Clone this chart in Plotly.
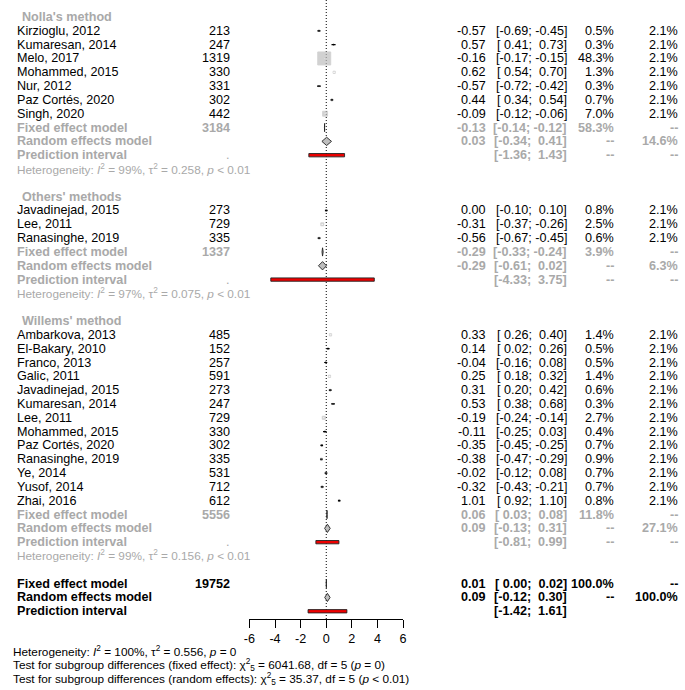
import plotly.graph_objects as go

# ---------------- data ----------------
nolla_study = ["Kirzioglu, 2012", "Kumaresan, 2014", "Melo, 2017", "Mohammed, 2015",
               "Nur, 2012", "Paz Cortés, 2020", "Singh, 2020"]
nolla_n = [213, 247, 1319, 330, 331, 302, 442]
nolla_te = [-0.57, 0.57, -0.16, 0.62, -0.57, 0.44, -0.09]
nolla_lo = [-0.69, 0.41, -0.17, 0.54, -0.72, 0.34, -0.12]
nolla_hi = [-0.45, 0.73, -0.15, 0.70, -0.42, 0.54, -0.06]
nolla_wf = [0.5, 0.3, 48.3, 1.3, 0.3, 0.7, 7.0]
nolla_wr = [2.1, 2.1, 2.1, 2.1, 2.1, 2.1, 2.1]
nolla_fixed = [3184, -0.13, -0.14, -0.12, 58.3]
nolla_random = [0.03, -0.34, 0.41, 14.6]
nolla_pred = [-1.36, 1.43]
nolla_het = ["99%", "0.258", "&lt; 0.01"]

others_study = ["Javadinejad, 2015", "Lee, 2011", "Ranasinghe, 2019"]
others_n = [273, 729, 335]
others_te = [0.00, -0.31, -0.56]
others_lo = [-0.10, -0.37, -0.67]
others_hi = [0.10, -0.26, -0.45]
others_wf = [0.8, 2.5, 0.6]
others_wr = [2.1, 2.1, 2.1]
others_fixed = [1337, -0.29, -0.33, -0.24, 3.9]
others_random = [-0.29, -0.61, 0.02, 6.3]
others_pred = [-4.33, 3.75]
others_het = ["97%", "0.075", "&lt; 0.01"]

willems_study = ["Ambarkova, 2013", "El-Bakary, 2010", "Franco, 2013", "Galic, 2011",
                 "Javadinejad, 2015", "Kumaresan, 2014", "Lee, 2011", "Mohammed, 2015",
                 "Paz Cortés, 2020", "Ranasinghe, 2019", "Ye, 2014", "Yusof, 2014",
                 "Zhai, 2016"]
willems_n = [485, 152, 257, 591, 273, 247, 729, 330, 302, 335, 531, 712, 612]
willems_te = [0.33, 0.14, -0.04, 0.25, 0.31, 0.53, -0.19, -0.11, -0.35, -0.38, -0.02, -0.32, 1.01]
willems_lo = [0.26, 0.02, -0.16, 0.18, 0.20, 0.38, -0.24, -0.25, -0.45, -0.47, -0.12, -0.43, 0.92]
willems_hi = [0.40, 0.26, 0.08, 0.32, 0.42, 0.68, -0.14, 0.03, -0.25, -0.29, 0.08, -0.21, 1.10]
willems_wf = [1.4, 0.5, 0.5, 1.4, 0.6, 0.3, 2.7, 0.4, 0.7, 0.9, 0.7, 0.7, 0.8]
willems_wr = [2.1] * 13
willems_fixed = [5556, 0.06, 0.03, 0.08, 11.8]
willems_random = [0.09, -0.13, 0.31, 27.1]
willems_pred = [-0.81, 0.99]
willems_het = ["99%", "0.156", "&lt; 0.01"]

overall_fixed = [19752, 0.01, 0.00, 0.02, 100.0]
overall_random = [0.09, -0.12, 0.30, 100.0]
overall_pred = [-1.42, 1.61]
overall_het = ["100%", "0.556", "= 0"]
test_fixed = ["6041.68", "5", "= 0"]
test_random = ["35.37", "5", "&lt; 0.01"]

tick_vals = [-6, -4, -2, 0, 2, 4, 6]
tick_text = ["-6", "-4", "-2", "0", "2", "4", "6"]

groups = [
    ("Nolla's method", nolla_study, nolla_n, nolla_te, nolla_lo, nolla_hi, nolla_wf, nolla_wr,
     nolla_fixed, nolla_random, nolla_pred, nolla_het),
    ("Others' methods", others_study, others_n, others_te, others_lo, others_hi, others_wf, others_wr,
     others_fixed, others_random, others_pred, others_het),
    ("Willems' method", willems_study, willems_n, willems_te, willems_lo, willems_hi, willems_wf, willems_wr,
     willems_fixed, willems_random, willems_pred, willems_het),
]

# ---------------- layout constants ----------------
W, H = 685, 690
FS = 12.6
FS_HET = 11.8
FONT = "Liberation Sans, Arial, Helvetica, sans-serif"
GREY = "#A9A9A9"
SQ = "#BEBEBE"
X_NAME, X_HDR, X_N, X_TE, X_CI, X_WF, X_WR = 11, 16.5, 227, 487, 569, 617, 682
AX_LEFT, AX_RIGHT, AX_BOTTOM = 247, 403, 619
ROW0_PX, ROW_PX = 17, 13.82
SQ_MAX = 13.0
PX_PER_UNIT = (AX_RIGHT - AX_LEFT) / 12.0
NB = "\u00a0"

annotations = []


def ann(px, row, text, anchor, color="black", bold=False, yref="y", size=FS):
    if bold:
        text = "<b>" + text + "</b>"
    annotations.append(dict(
        x=px / W, xref="paper", y=row, yref=yref, text=text, showarrow=False,
        xanchor=anchor, yanchor="middle", borderpad=0, borderwidth=0,
        font=dict(family=FONT, size=size, color=color)))


def f2(v):
    s = f"{v:.2f}"
    return s if s.startswith("-") else NB + s


def ci(lo, hi):
    return "[" + f2(lo) + ";" + NB + f2(hi) + "]"


sq_x, sq_y, sq_s, sq_lc = [], [], [], []
blk_x, blk_y, wht_x, wht_y = [], [], [], []
diamonds = []
preds = []

row = 0
for (label, study, n, te, lo, hi, wf, wr, fx, rd, pr, het) in groups:
    ann(X_HDR, row, label, "left", GREY, bold=True)
    row += 1
    for i in range(len(study)):
        ann(X_NAME, row, study[i], "left")
        ann(X_N, row, str(n[i]), "right")
        ann(X_TE, row, f"{te[i]:.2f}", "right")
        ann(X_CI, row, ci(lo[i], hi[i]), "right")
        ann(X_WF, row, f"{wf[i]:.1f}%", "right")
        ann(X_WR, row, f"{wr[i]:.1f}%", "right")
        s = max(SQ_MAX * (wf[i] / 48.3) ** 0.5, 1.0)
        sq_x.append(te[i]); sq_y.append(row); sq_s.append(s)
        if (hi[i] - lo[i]) * PX_PER_UNIT < s:
            wht_x += [lo[i], hi[i], None]; wht_y += [row, row, None]
            sq_lc.append(SQ)
        else:
            blk_x += [lo[i], hi[i], None]; blk_y += [row, row, None]
            sq_lc.append("#333333")
        row += 1
    ann(X_NAME, row, "Fixed effect model", "left", GREY, bold=True)
    ann(X_N, row, str(fx[0]), "right", GREY, bold=True)
    ann(X_TE, row, f"{fx[1]:.2f}", "right", GREY, bold=True)
    ann(X_CI, row, ci(fx[2], fx[3]), "right", GREY, bold=True)
    ann(X_WF, row, f"{fx[4]:.1f}%", "right", GREY, bold=True)
    ann(X_WR, row, "--", "right", GREY, bold=True)
    diamonds.append((fx[1], fx[2], fx[3], row))
    row += 1
    ann(X_NAME, row, "Random effects model", "left", GREY, bold=True)
    ann(X_TE, row, f"{rd[0]:.2f}", "right", GREY, bold=True)
    ann(X_CI, row, ci(rd[1], rd[2]), "right", GREY, bold=True)
    ann(X_WF, row, "--", "right", GREY, bold=True)
    ann(X_WR, row, f"{rd[3]:.1f}%", "right", GREY, bold=True)
    diamonds.append((rd[0], rd[1], rd[2], row))
    row += 1
    ann(X_NAME, row, "Prediction interval", "left", GREY, bold=True)
    ann(X_N, row, ".", "right", GREY)
    ann(X_CI, row, ci(pr[0], pr[1]), "right", GREY, bold=True)
    ann(X_WF, row, "--", "right", GREY, bold=True)
    ann(X_WR, row, "--", "right", GREY, bold=True)
    preds.append((pr[0], pr[1], row))
    row += 1
    ann(X_NAME, row, "Heterogeneity: <i>I</i><sup>2</sup> = " + het[0] + ", τ<sup>2</sup> = "
        + het[1] + ", <i>p</i> " + het[2], "left", GREY, size=FS_HET)
    row += 2

ann(X_NAME, row, "Fixed effect model", "left", bold=True)
ann(X_N, row, str(overall_fixed[0]), "right", bold=True)
ann(X_TE, row, f"{overall_fixed[1]:.2f}", "right", bold=True)
ann(X_CI, row, ci(overall_fixed[2], overall_fixed[3]), "right", bold=True)
ann(X_WF, row, f"{overall_fixed[4]:.1f}%", "right", bold=True)
ann(X_WR, row, "--", "right", bold=True)
diamonds.append((overall_fixed[1], overall_fixed[2], overall_fixed[3], row))
row += 1
ann(X_NAME, row, "Random effects model", "left", bold=True)
ann(X_TE, row, f"{overall_random[0]:.2f}", "right", bold=True)
ann(X_CI, row, ci(overall_random[1], overall_random[2]), "right", bold=True)
ann(X_WF, row, "--", "right", bold=True)
ann(X_WR, row, f"{overall_random[3]:.1f}%", "right", bold=True)
diamonds.append((overall_random[0], overall_random[1], overall_random[2], row))
row += 1
ann(X_NAME, row, "Prediction interval", "left", bold=True)
ann(X_CI, row, ci(overall_pred[0], overall_pred[1]), "right", bold=True)
preds.append((overall_pred[0], overall_pred[1], row))

bot = [
    (651, "Heterogeneity: <i>I</i><sup>2</sup> = " + overall_het[0] + ", τ<sup>2</sup> = "
     + overall_het[1] + ", <i>p</i> " + overall_het[2]),
    (665, "Test for subgroup differences (fixed effect): χ<sup>2</sup><sub>5</sub> = " + test_fixed[0]
     + ", df = " + test_fixed[1] + " (<i>p</i> " + test_fixed[2] + ")"),
    (679, "Test for subgroup differences (random effects): χ<sup>2</sup><sub>5</sub> = " + test_random[0]
     + ", df = " + test_random[1] + " (<i>p</i> " + test_random[2] + ")"),
]
for py, txt in bot:
    ann(7, 1 - py / H, txt, "left", yref="paper", size=FS_HET)

# ---------------- figure ----------------
fig = go.Figure()

fig.add_trace(go.Scatter(x=sq_x, y=sq_y, mode="markers",
                         marker=dict(symbol="square", size=sq_s, color=SQ,
                                     line=dict(width=0.9, color=sq_lc)),
                         hoverinfo="skip", showlegend=False))
fig.add_trace(go.Scatter(x=blk_x, y=blk_y, mode="lines", line=dict(color="black", width=1.2),
                         hoverinfo="skip", showlegend=False))
fig.add_trace(go.Scatter(x=wht_x, y=wht_y, mode="lines", line=dict(color="white", width=1),
                         hoverinfo="skip", showlegend=False))

DH = 0.30
for te, lo, hi, r in diamonds:
    fig.add_trace(go.Scatter(x=[lo, te, hi, te, lo], y=[r, r - DH, r, r + DH, r], mode="lines",
                             fill="toself", fillcolor=SQ, line=dict(color="#222222", width=0.9),
                             hoverinfo="skip", showlegend=False))
PH = 0.12
for lo, hi, r in preds:
    fig.add_trace(go.Scatter(x=[lo, hi, hi, lo, lo], y=[r - PH, r - PH, r + PH, r + PH, r - PH],
                             mode="lines", fill="toself", fillcolor="#EE0000",
                             line=dict(color="#222222", width=0.9),
                             hoverinfo="skip", showlegend=False))

r_top = -ROW0_PX / ROW_PX
r_bot = (AX_BOTTOM - ROW0_PX) / ROW_PX

fig.update_layout(
    width=W, height=H, margin=dict(l=0, r=0, t=0, b=0),
    paper_bgcolor="white", plot_bgcolor="white",
    annotations=annotations,
    shapes=[dict(type="line", xref="x", yref="y domain", x0=0, x1=0, y0=0, y1=1,
                 line=dict(color="black", width=1, dash="1px,2px"), layer="below")],
    xaxis=dict(domain=[AX_LEFT / W, AX_RIGHT / W], range=[-6, 6], showgrid=False,
               zeroline=False, showline=True, linecolor="black", linewidth=1,
               ticks="outside", ticklen=8, tickwidth=1, tickcolor="black",
               tickvals=tick_vals, ticktext=tick_text,
               tickfont=dict(family=FONT, size=FS, color="black"), fixedrange=True),
    yaxis=dict(domain=[1 - AX_BOTTOM / H, 1], range=[r_bot, r_top], visible=False,
               showgrid=False, zeroline=False, fixedrange=True),
)

fig.write_html("out.html", config={"displayModeBar": False},
               post_script="document.body.style.margin='0';document.body.style.padding='0';"
                           "document.body.style.overflow='hidden';")
